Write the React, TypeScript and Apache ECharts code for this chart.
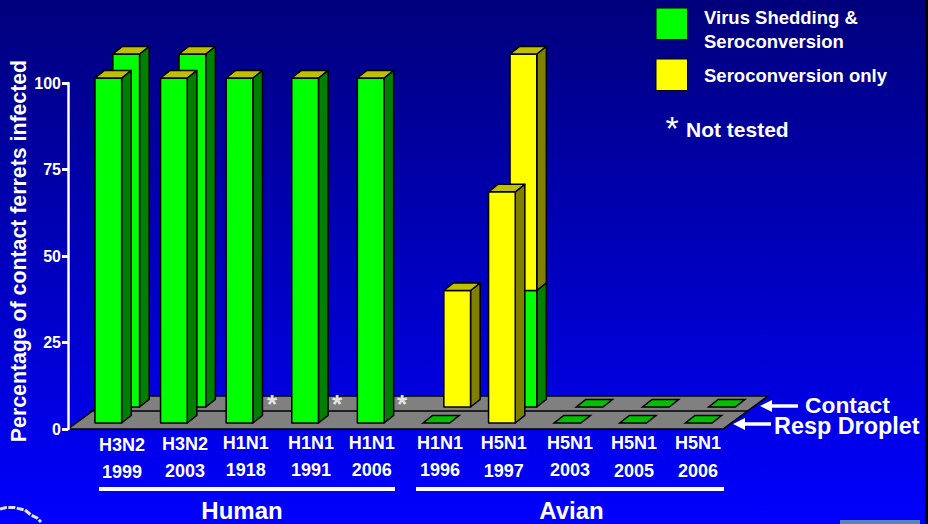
import React, { useEffect, useRef } from "react";
import * as echarts from "echarts";

// Strain and isolation year of each virus tested, human first, then avian.
const strains = ["H3N2", "H3N2", "H1N1", "H1N1", "H1N1", "H1N1", "H5N1", "H5N1", "H5N1", "H5N1"];
const years = ["1999", "2003", "1918", "1991", "2006", "1996", "1997", "2003", "2005", "2006"];

// Percent of contact ferrets infected, per transmission route.
const dropletShedding = [100, 100, 100, 100, 100, 0, 0, 0, 0, 0];
const dropletSeroOnly = [0, 0, 0, 0, 0, 0, 67, 0, 0, 0];
// null marks a virus that was not tested by direct contact.
const contactShedding = [100, 100, null, null, null, 0, 33, 0, 0, 0];
const contactSeroOnly = [0, 0, null, null, null, 33, 67, 0, 0, 0];

const FONT = '"Liberation Sans", Arial, sans-serif';
const GREEN = "#00ff00";
const GREEN_SIDE = "#008000";
const GREEN_FLAT = "#00c000";
const YELLOW = "#ffff00";
const YELLOW_SIDE = "#808000";
const CAP = "#c0c000";
const EDGE = "#000000";

const BAR_WIDTH = 26.7;
const DEPTH_X = 9.6;
const DEPTH_Y = 7.6;

// Hand-set label placement under the floor of the chart.
const labelX = [122, 185, 245.7, 311, 371.7, 440, 503.7, 570, 634, 698];
const strainY = [444.7, 443.7, 443, 443, 442.5, 443, 443, 443, 443, 443];
const yearY = [471.7, 470.7, 469.7, 469.7, 469.7, 469.7, 471, 469.7, 471, 471];

type Row = [number, number | null, number | null];

function rowData(shedding: (number | null)[], seroOnly: (number | null)[]): Row[] {
  return shedding.map((s, i) => [i, s, seroOnly[i]]);
}

function prism(x: number, yBase: number, yTop: number, face: string, side: string, cap: string | null) {
  const l = x - BAR_WIDTH / 2;
  const r = x + BAR_WIDTH / 2;
  const common = { stroke: EDGE, lineWidth: 1.5, lineJoin: "round" };
  const parts: any[] = [
    {
      type: "polygon",
      shape: { points: [[r, yBase], [r + DEPTH_X, yBase - DEPTH_Y], [r + DEPTH_X, yTop - DEPTH_Y], [r, yTop]] },
      style: { fill: side, ...common },
    },
    { type: "rect", shape: { x: l, y: yTop, width: BAR_WIDTH, height: yBase - yTop }, style: { fill: face, ...common } },
  ];
  if (cap) {
    parts.push({
      type: "polygon",
      shape: { points: [[l, yTop], [r, yTop], [r + DEPTH_X, yTop - DEPTH_Y], [l + DEPTH_X, yTop - DEPTH_Y]] },
      style: { fill: cap, ...common },
    });
  }
  return parts;
}

// One cell of a row: a flat tile at zero, otherwise a stacked 3D column.
function renderCell(_params: any, api: any) {
  const idx = api.value(0);
  const shed = api.value(1);
  const sero = api.value(2);
  const [x, yBase] = api.coord([idx, 0]);
  if (Number.isNaN(shed) || Number.isNaN(sero)) {
    // Untested viruses get an asterisk on the floor, in the gap beside the front column.
    return {
      type: "text",
      style: {
        text: "*",
        x: x + 13.5 - (idx - 2) * 1.2,
        y: yBase - 3,
        fill: "#e4e4e4",
        font: `bold 26px ${FONT}`,
        align: "center",
        verticalAlign: "middle",
      },
    };
  }
  if (shed + sero === 0) {
    const l = x - BAR_WIDTH / 2;
    const r = x + BAR_WIDTH / 2;
    return {
      type: "polygon",
      shape: { points: [[l, yBase], [r, yBase], [r + DEPTH_X, yBase - DEPTH_Y], [l + DEPTH_X, yBase - DEPTH_Y]] },
      style: { fill: GREEN_FLAT, stroke: EDGE, lineWidth: 1.5 },
    };
  }
  const children: any[] = [];
  const yShed = api.coord([idx, shed])[1];
  const yAll = api.coord([idx, shed + sero])[1];
  if (shed > 0) children.push(...prism(x, yBase, yShed, GREEN, GREEN_SIDE, sero > 0 ? null : CAP));
  if (sero > 0) children.push(...prism(x, yShed, yAll, YELLOW, YELLOW_SIDE, CAP));
  return { type: "group", children };
}

function text(content: string, x: number, y: number, size: number, align = "left", weight = "bold") {
  return {
    type: "text",
    x,
    y,
    style: {
      text: content,
      fill: "#ffffff",
      font: `${weight} ${size}px ${FONT}`,
      align,
      verticalAlign: "middle",
    },
  };
}

function leftArrow(tip: number, tail: number, y: number) {
  return [
    { type: "line", shape: { x1: tip + 8, y1: y, x2: tail, y2: y }, style: { stroke: "#ffffff", lineWidth: 3.5 } },
    { type: "polygon", shape: { points: [[tip, y], [tip + 12, y - 6], [tip + 12, y + 6]] }, style: { fill: "#ffffff" } },
  ];
}

const floorShapes: any[] = [
  {
    type: "polygon",
    shape: { points: [[68, 429], [723, 429], [768, 396], [113, 396]] },
    style: { fill: "#808080", stroke: EDGE, lineWidth: 1.5 },
  },
  { type: "line", shape: { x1: 90, y1: 411, x2: 747, y2: 411 }, style: { stroke: EDGE, lineWidth: 1.5 } },
];

const overlay: any[] = [
  { type: "rect", shape: { x: 925, y: 0, width: 3, height: 524 }, style: { fill: "#000000" } },
  { type: "rect", shape: { x: 840, y: 520, width: 80, height: 4 }, style: { fill: "#5f82b8" } },
  {
    type: "polyline",
    shape: { points: [[0, 509], [6, 507.5], [14, 507.5], [25, 510], [31, 515], [37, 518], [41, 522]] },
    style: { stroke: "#e4e4f0", lineWidth: 3, lineDash: [7, 1.5], fill: "none" },
  },
  { type: "rect", shape: { x: 656, y: 8, width: 31.5, height: 31.5 }, style: { fill: GREEN, stroke: EDGE, lineWidth: 1 } },
  { type: "rect", shape: { x: 656, y: 59, width: 31.5, height: 31.5 }, style: { fill: YELLOW, stroke: EDGE, lineWidth: 1 } },
  text("Virus Shedding &", 704, 17.5, 18.5),
  text("Seroconversion", 704, 41, 18.5),
  text("Seroconversion only", 704, 75.5, 18.5),
  text("*", 672, 128, 34, "center", "normal"),
  text("Not tested", 686, 129, 21),
  ...strains.map((s, i) => text(s, labelX[i], strainY[i], 18, "center")),
  ...years.map((y, i) => text(y, labelX[i], yearY[i], 18, "center")),
  { type: "rect", shape: { x: 99, y: 487, width: 296, height: 4 }, style: { fill: "#ffffff" } },
  { type: "rect", shape: { x: 416, y: 487, width: 308, height: 4 }, style: { fill: "#ffffff" } },
  text("Human", 242, 510, 24, "center"),
  text("Avian", 571.5, 510, 24, "center"),
  ...leftArrow(760, 798, 406),
  ...leftArrow(733, 771, 424),
  text("Contact", 805, 404.5, 22.8),
  text("Resp Droplet", 774, 425.5, 23.4),
];

export default function App() {
  const ref = useRef<HTMLDivElement>(null);

  useEffect(() => {
    const chart = echarts.init(ref.current!, undefined, { renderer: "svg" });
    const hiddenX = { type: "category", data: strains, show: false };
    const hiddenY = { type: "value", min: 0, max: 100, show: false };
    chart.setOption({
      animation: false,
      backgroundColor: {
        type: "linear",
        x: 0,
        y: 0,
        x2: 0,
        y2: 1,
        colorStops: [
          { offset: 0, color: "#00007c" },
          { offset: 1, color: "#0000ff" },
        ],
      },
      // Grid 0 carries the visible scale; grids 1 and 2 are the two receding rows.
      grid: [
        { left: 68, top: 83, width: 655, height: 346, outerBoundsMode: "none" },
        { left: 75.5, top: 78, width: 656, height: 345, outerBoundsMode: "none" },
        { left: 93.1, top: 54, width: 662, height: 353, outerBoundsMode: "none" },
      ],
      xAxis: [
        { ...hiddenX, gridIndex: 0 },
        { ...hiddenX, gridIndex: 1 },
        { ...hiddenX, gridIndex: 2 },
      ],
      yAxis: [
        {
          type: "value",
          gridIndex: 0,
          min: 0,
          max: 100,
          interval: 25,
          axisLine: { show: true, lineStyle: { color: "#ffffff", width: 2.5 } },
          axisTick: { show: true, length: 6, lineStyle: { color: "#ffffff", width: 3 } },
          axisLabel: {
            color: "#ffffff",
            margin: 7,
            fontFamily: FONT,
            fontWeight: "bold",
            fontSize: 16,
          },
          splitLine: { show: false },
          name: "Percentage of contact ferrets infected",
          nameLocation: "middle",
          nameGap: 39,
          nameMoveOverlap: false,
          nameTextStyle: {
            color: "#ffffff",
            fontFamily: FONT,
            fontWeight: "bold",
            fontSize: 21.3,
            padding: [0, 0, 0, 10],
          },
        },
        { ...hiddenY, gridIndex: 1 },
        { ...hiddenY, gridIndex: 2 },
      ],
      graphic: { elements: [...floorShapes.map((e) => ({ ...e, z: 0 })), ...overlay.map((e) => ({ ...e, z: 10 }))] },
      series: [
        {
          name: "Contact",
          type: "custom",
          xAxisIndex: 2,
          yAxisIndex: 2,
          clip: false,
          z: 3,
          encode: { x: 0, y: [1, 2] },
          data: rowData(contactShedding, contactSeroOnly),
          renderItem: renderCell,
        },
        {
          name: "Resp Droplet",
          type: "custom",
          xAxisIndex: 1,
          yAxisIndex: 1,
          clip: false,
          z: 4,
          encode: { x: 0, y: [1, 2] },
          data: rowData(dropletShedding, dropletSeroOnly),
          renderItem: renderCell,
        },
      ],
    });
    return () => chart.dispose();
  }, []);

  return <div ref={ref} style={{ width: 928, height: 524, position: "fixed", left: 0, top: 0 }} />;
}
